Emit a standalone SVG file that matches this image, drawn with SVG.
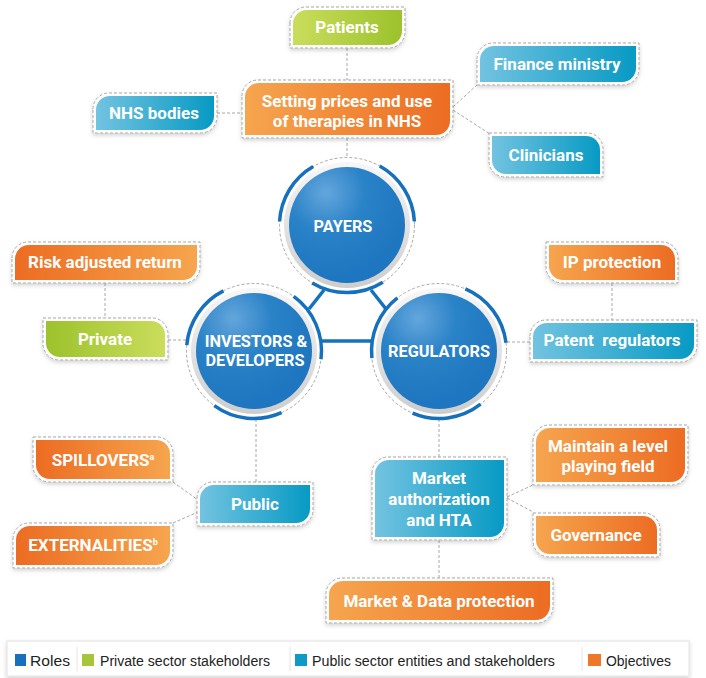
<svg xmlns="http://www.w3.org/2000/svg" width="706" height="678" viewBox="0 0 706 678">
<defs>
<linearGradient id="oLD" x1="0" y1="0" x2="1" y2="0"><stop offset="0" stop-color="#f6a54e"/><stop offset="1" stop-color="#ec6c22"/></linearGradient>
<linearGradient id="oDL" x1="0" y1="0" x2="1" y2="0"><stop offset="0" stop-color="#ec6c22"/><stop offset="1" stop-color="#f6a54e"/></linearGradient>
<linearGradient id="bLD" x1="0" y1="0" x2="1" y2="0"><stop offset="0" stop-color="#72c3e0"/><stop offset="1" stop-color="#079ac4"/></linearGradient>
<linearGradient id="gLD" x1="0" y1="0" x2="1" y2="0"><stop offset="0" stop-color="#cadd5c"/><stop offset="1" stop-color="#9cc22c"/></linearGradient>
<linearGradient id="gDL" x1="0" y1="0" x2="1" y2="0"><stop offset="0" stop-color="#9cc22c"/><stop offset="1" stop-color="#cadd5c"/></linearGradient>
<radialGradient id="blue" cx="0.32" cy="0.22" r="0.75"><stop offset="0" stop-color="#64a6dc"/><stop offset="0.45" stop-color="#2a82c7"/><stop offset="1" stop-color="#1d76bf"/></radialGradient>
<linearGradient id="ring" x1="0" y1="0" x2="0" y2="1"><stop offset="0" stop-color="#f7f7f7"/><stop offset="1" stop-color="#cdcdcd"/></linearGradient>
<filter id="sh" x="-10%" y="-20%" width="120%" height="150%"><feDropShadow dx="0" dy="2" stdDeviation="2" flood-color="#000" flood-opacity="0.18"/></filter>
</defs>
<style>
.ol{fill:#fff;stroke:#a8a8a8;stroke-width:1;stroke-dasharray:3 2;filter:url(#sh)}
.t{font-family:Roboto,"Liberation Sans",sans-serif;font-weight:bold;font-size:17px;fill:#fff;text-anchor:middle;white-space:pre}
.c{font-size:16.3px}
.dc{fill:none;stroke:#a8a8a8;stroke-width:1;stroke-dasharray:3 2}
.arc{fill:none;stroke:#1570bd;stroke-width:3.5}
.bl{stroke:#1570bd;stroke-width:3.5}
.lg{font-family:"Liberation Sans",Arial,sans-serif;font-size:15.5px;fill:#222}
</style>
<g id="connectors">
<line class="dc" x1="347" y1="48" x2="347" y2="80"/>
<line class="dc" x1="347" y1="138" x2="347" y2="157"/>
<line class="dc" x1="217" y1="113" x2="242" y2="113"/>
<line class="dc" x1="453" y1="107" x2="478" y2="84"/>
<line class="dc" x1="453" y1="110" x2="490" y2="134"/>
<line class="dc" x1="105" y1="283" x2="105" y2="318"/>
<line class="dc" x1="168" y1="340" x2="186" y2="340"/>
<line class="dc" x1="612" y1="283" x2="612" y2="320"/>
<line class="dc" x1="530" y1="342" x2="507" y2="342"/>
<line class="dc" x1="256" y1="419" x2="256" y2="482"/>
<line class="dc" x1="439" y1="419" x2="439" y2="457"/>
<line class="dc" x1="173" y1="482" x2="198" y2="500"/>
<line class="dc" x1="173" y1="523" x2="198" y2="512"/>
<line class="dc" x1="507" y1="497" x2="533" y2="485"/>
<line class="dc" x1="507" y1="498" x2="533" y2="512"/>
<line class="dc" x1="439" y1="540" x2="439" y2="578"/>
<line class="bl" x1="324" y1="290" x2="309" y2="309"/>
<line class="bl" x1="371" y1="290" x2="386" y2="309"/>
<line class="bl" x1="322" y1="341" x2="373" y2="341"/>
</g>
<g id="payers">
<circle class="dc" cx="347" cy="225" r="67.5"/>
<circle cx="347" cy="225" r="63" fill="url(#ring)"/>
<circle cx="347" cy="225" r="58" fill="url(#blue)"/>
<path class="arc" d="M279.6,221.5 A67.5,67.5 0 0 1 313.2,166.5"/>
<path class="arc" d="M379.7,166 A67.5,67.5 0 0 1 414.4,221.5"/>
<path class="arc" d="M382.8,282.2 A67.5,67.5 0 0 1 312.2,282.9"/>
<text class="t c" x="343" y="232">PAYERS</text>
</g>
<g id="investors">
<circle class="dc" cx="254" cy="351" r="67.5"/>
<circle cx="254" cy="351" r="63" fill="url(#ring)"/>
<circle cx="254" cy="351" r="58" fill="url(#blue)"/>
<path class="arc" d="M186.75,345.1 A67.5,67.5 0 0 1 223.4,290.9"/>
<path class="arc" d="M293.7,296.4 A67.5,67.5 0 0 1 321,359.2"/>
<path class="arc" d="M281.5,412.7 A67.5,67.5 0 0 1 214.3,405.6"/>
<text class="t c" x="256" y="347">INVESTORS &amp;</text>
<text class="t c" x="255" y="366">DEVELOPERS</text>
</g>
<g id="regulators">
<circle class="dc" cx="439" cy="351" r="67.5"/>
<circle cx="439" cy="351" r="63" fill="url(#ring)"/>
<circle cx="439" cy="351" r="58" fill="url(#blue)"/>
<path class="arc" d="M371.9,358.1 A67.5,67.5 0 0 1 397.4,297.8"/>
<path class="arc" d="M465.4,288.9 A67.5,67.5 0 0 1 506,342.8"/>
<path class="arc" d="M480.6,404.2 A67.5,67.5 0 0 1 412.6,413.1"/>
<text class="t c" x="439" y="357">REGULATORS</text>
</g>
<g id="patients">
<path class="ol" d="M290,23 A16,16 0 0 1 306,7 H405 V32 A16,16 0 0 1 389,48 H290 Z"/>
<path fill="url(#gLD)" d="M293,24 A14,14 0 0 1 307,10 H402 V31 A14,14 0 0 1 388,45 H293 Z"/>
<text class="t" x="347" y="33">Patients</text>
</g>
<g id="setting-prices">
<path class="ol" d="M242,96 A16,16 0 0 1 258,80 H453 V122 A16,16 0 0 1 437,138 H242 Z"/>
<path fill="url(#oLD)" d="M245,97 A14,14 0 0 1 259,83 H450 V121 A14,14 0 0 1 436,135 H245 Z"/>
<text class="t" x="347" y="107">Setting prices and use</text>
<text class="t" x="347" y="127">of therapies in NHS</text>
</g>
<g id="nhs-bodies">
<path class="ol" d="M93,109 A16,16 0 0 1 109,93 H217 V117 A16,16 0 0 1 201,133 H93 Z"/>
<path fill="url(#bLD)" d="M96,110 A14,14 0 0 1 110,96 H214 V116 A14,14 0 0 1 200,130 H96 Z"/>
<text class="t" x="154" y="119">NHS bodies</text>
</g>
<g id="finance-ministry">
<path class="ol" d="M477,59 A16,16 0 0 1 493,43 H639 V69 A16,16 0 0 1 623,85 H477 Z"/>
<path fill="url(#bLD)" d="M480,60 A14,14 0 0 1 494,46 H636 V68 A14,14 0 0 1 622,82 H480 Z"/>
<text class="t" x="557" y="70">Finance ministry</text>
</g>
<g id="clinicians">
<path class="ol" d="M489,133 H587 A16,16 0 0 1 603,149 V177 H505 A16,16 0 0 1 489,161 Z"/>
<path fill="url(#bLD)" d="M492,136 H586 A14,14 0 0 1 600,150 V174 H506 A14,14 0 0 1 492,160 Z"/>
<text class="t" x="546" y="161">Clinicians</text>
</g>
<g id="risk-adjusted-return">
<path class="ol" d="M12,258 A16,16 0 0 1 28,242 H200 V267 A16,16 0 0 1 184,283 H12 Z"/>
<path fill="url(#oDL)" d="M15,259 A14,14 0 0 1 29,245 H197 V266 A14,14 0 0 1 183,280 H15 Z"/>
<text class="t" x="105" y="268">Risk adjusted return</text>
</g>
<g id="private">
<path class="ol" d="M43,318 H152 A16,16 0 0 1 168,334 V360 H59 A16,16 0 0 1 43,344 Z"/>
<path fill="url(#gDL)" d="M46,321 H151 A14,14 0 0 1 165,335 V357 H60 A14,14 0 0 1 46,343 Z"/>
<text class="t" x="105" y="345">Private</text>
</g>
<g id="ip-protection">
<path class="ol" d="M546,242 H662 A16,16 0 0 1 678,258 V283 H562 A16,16 0 0 1 546,267 Z"/>
<path fill="url(#oLD)" d="M549,245 H661 A14,14 0 0 1 675,259 V280 H563 A14,14 0 0 1 549,266 Z"/>
<text class="t" x="612" y="268">IP protection</text>
</g>
<g id="patent-regulators">
<path class="ol" d="M530,336 A16,16 0 0 1 546,320 H697 V346 A16,16 0 0 1 681,362 H530 Z"/>
<path fill="url(#bLD)" d="M533,337 A14,14 0 0 1 547,323 H694 V345 A14,14 0 0 1 680,359 H533 Z"/>
<text class="t" x="612" y="346">Patent  regulators</text>
</g>
<g id="spillovers">
<path class="ol" d="M33,437 H157 A16,16 0 0 1 173,453 V482 H49 A16,16 0 0 1 33,466 Z"/>
<path fill="url(#oDL)" d="M36,440 H156 A14,14 0 0 1 170,454 V479 H50 A14,14 0 0 1 36,465 Z"/>
<text class="t" x="103" y="466">SPILLOVERS<tspan font-size="9" dy="-6">a</tspan></text>
</g>
<g id="externalities">
<path class="ol" d="M13,539 A16,16 0 0 1 29,523 H173 V552 A16,16 0 0 1 157,568 H13 Z"/>
<path fill="url(#oDL)" d="M16,540 A14,14 0 0 1 30,526 H170 V551 A14,14 0 0 1 156,565 H16 Z"/>
<text class="t" x="93" y="551">EXTERNALITIES<tspan font-size="9" dy="-6">b</tspan></text>
</g>
<g id="public">
<path class="ol" d="M197,498 A16,16 0 0 1 213,482 H313 V510 A16,16 0 0 1 297,526 H197 Z"/>
<path fill="url(#bLD)" d="M200,499 A14,14 0 0 1 214,485 H310 V509 A14,14 0 0 1 296,523 H200 Z"/>
<text class="t" x="255" y="510">Public</text>
</g>
<g id="market-authorization">
<path class="ol" d="M372,473 A16,16 0 0 1 388,457 H507 V524 A16,16 0 0 1 491,540 H372 Z"/>
<path fill="url(#bLD)" d="M375,474 A14,14 0 0 1 389,460 H504 V523 A14,14 0 0 1 490,537 H375 Z"/>
<text class="t" x="439" y="484">Market</text>
<text class="t" x="439" y="505">authorization</text>
<text class="t" x="439" y="526">and HTA</text>
</g>
<g id="maintain-level">
<path class="ol" d="M533,441 A16,16 0 0 1 549,425 H688 V469 A16,16 0 0 1 672,485 H533 Z"/>
<path fill="url(#oLD)" d="M536,442 A14,14 0 0 1 550,428 H685 V468 A14,14 0 0 1 671,482 H536 Z"/>
<text class="t" x="608" y="452">Maintain a level</text>
<text class="t" x="608" y="472">playing field</text>
</g>
<g id="governance">
<path class="ol" d="M533,513 H644 A16,16 0 0 1 660,529 V557 H549 A16,16 0 0 1 533,541 Z"/>
<path fill="url(#oLD)" d="M536,516 H643 A14,14 0 0 1 657,530 V554 H550 A14,14 0 0 1 536,540 Z"/>
<text class="t" x="596" y="541">Governance</text>
</g>
<g id="market-data-protection">
<path class="ol" d="M326,594 A16,16 0 0 1 342,578 H553 V607 A16,16 0 0 1 537,623 H326 Z"/>
<path fill="url(#oLD)" d="M329,595 A14,14 0 0 1 343,581 H550 V606 A14,14 0 0 1 536,620 H329 Z"/>
<text class="t" x="439" y="607">Market &amp; Data protection</text>
</g>
<g id="legend">
<rect x="7" y="641" width="682" height="35" fill="#fff" stroke="#e2e2e2" filter="url(#sh)"/>
<line x1="77" y1="647" x2="77" y2="671" stroke="#e4e4e4"/>
<line x1="290" y1="647" x2="290" y2="671" stroke="#e4e4e4"/>
<line x1="582" y1="647" x2="582" y2="671" stroke="#e4e4e4"/>
<rect x="15" y="654" width="11" height="12" fill="#1670be"/>
<text class="lg" x="30" y="666" textLength="40" lengthAdjust="spacingAndGlyphs">Roles</text>
<rect x="82" y="654" width="12" height="12" fill="#a5c63b"/>
<text class="lg" x="100" y="666" textLength="170" lengthAdjust="spacingAndGlyphs">Private sector stakeholders</text>
<rect x="295" y="654" width="12" height="12" fill="#0f9ac6"/>
<text class="lg" x="312" y="666" textLength="243" lengthAdjust="spacingAndGlyphs">Public sector entities and stakeholders</text>
<rect x="588" y="654" width="13" height="12" fill="#ee7728"/>
<text class="lg" x="606" y="666" textLength="65" lengthAdjust="spacingAndGlyphs">Objectives</text>
</g>
</svg>
